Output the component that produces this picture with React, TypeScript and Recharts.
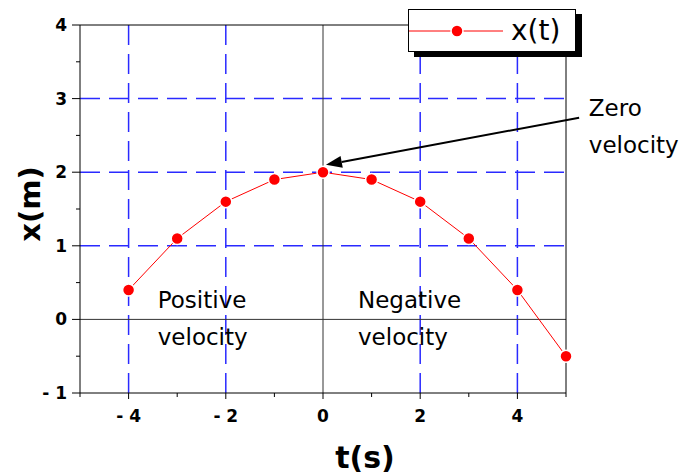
import React from 'react';
import { ComposedChart, Line, XAxis, YAxis, ReferenceLine, ReferenceDot, Legend, Label } from 'recharts';

const times = [-4, -3, -2, -1, 0, 1, 2, 3, 4, 5];
const positions = [0.4, 1.1, 1.6, 1.9, 2.0, 1.9, 1.6, 1.1, 0.4, -0.5];

const xTicks = [-5, -4, -3, -2, -1, 0, 1, 2, 3, 4, 5];
const xLabelled = [-4, -2, 0, 2, 4];
const yTicks = [-1, -0.5, 0, 0.5, 1, 1.5, 2, 2.5, 3, 3.5, 4];
const xGrid = [-4, -2, 2, 4];
const yGrid = [1, 2, 3];

const font = "'DejaVu Sans', sans-serif";
const red = '#ff0000';
const blue = '#2a2aff';

const data = times.map((t, i) => ({ t, x: positions[i] }));

const fmt = (v: number) => (v < 0 ? `- ${-v}` : String(v));

const XTick = (props: any) => {
  const { x, y, payload } = props;
  const v = payload.value;
  const major = xLabelled.includes(v);
  return (
    <g>
      <line x1={x} x2={x} y1={y} y2={y + (major ? 6 : 4)} stroke="#000" />
      {major && (
        <text x={x} y={y + 29} textAnchor="middle" fontSize={17} fontWeight="bold" fontFamily={font} fill="#000">
          {fmt(v)}
        </text>
      )}
    </g>
  );
};

const YTick = (props: any) => {
  const { x, y, payload } = props;
  const v = payload.value;
  const major = Number.isInteger(v);
  return (
    <g>
      <line x1={x - (major ? 8 : 4)} x2={x} y1={y} y2={y} stroke="#000" />
      {major && (
        <text x={x - 13} y={y + 6} textAnchor="end" fontSize={17} fontWeight="bold" fontFamily={font} fill="#000">
          {fmt(v)}
        </text>
      )}
    </g>
  );
};

const YTitle = (props: any) => {
  const { viewBox } = props;
  const cx = viewBox.x + 10;
  const cy = viewBox.y + viewBox.height / 2 - 5;
  return (
    <text x={cx} y={cy} transform={`rotate(-90 ${cx} ${cy})`} textAnchor="middle" dominantBaseline="central"
      fontSize={29} fontWeight="bold" fontFamily={font} fill="#000">
      x(m)
    </text>
  );
};

const XTitle = (props: any) => {
  const { viewBox } = props;
  const cx = viewBox.x + viewBox.width / 2 + 42;
  const cy = viewBox.y + 64;
  return (
    <text x={cx} y={cy} textAnchor="middle" dominantBaseline="central" fontSize={30} fontWeight="bold" fontFamily={font} fill="#000">
      t(s)
    </text>
  );
};

const Arrow = (p: any) => {
  const { x1, y1, x2, y2 } = p;
  const ang = Math.atan2(y2 - y1, x2 - x1);
  const len = 16;
  const half = 6;
  const bx = x2 - len * Math.cos(ang);
  const by = y2 - len * Math.sin(ang);
  const px = -Math.sin(ang) * half;
  const py = Math.cos(ang) * half;
  return (
    <g>
      <line x1={x1} y1={y1} x2={bx} y2={by} stroke="#000" strokeWidth={2} />
      <polygon points={`${x2},${y2} ${bx + px},${by + py} ${bx - px},${by - py}`} fill="#000" />
    </g>
  );
};

const note = (lines: string[]) => (p: any) => (
  <text x={p.cx} y={p.cy} fontSize={23} fontFamily={font} fill="#000">
    {lines.map((l, i) => (
      <tspan key={i} x={p.cx} dy={i === 0 ? 0 : 37}>{l}</tspan>
    ))}
  </text>
);

const LegendBox = (props: any) => {
  const item = (props.payload || [])[0];
  return (
    <div style={{
      width: 166, height: 41, border: '1px solid #000', background: '#fff',
      boxShadow: '6px 5px 0 #000', display: 'flex', alignItems: 'center',
    }}>
      <svg width={102} height={41}>
        <line x1={0} x2={94} y1={21} y2={21} stroke={red} />
        <circle cx={48} cy={21} r={6} fill={red} stroke="#fff" strokeWidth={1.5} />
      </svg>
      <span style={{ fontSize: 28, fontFamily: font, color: '#000', lineHeight: 1 }}>{item ? item.value : 'x(t)'}</span>
    </div>
  );
};

export default function App() {
  return (
    <div style={{ position: 'absolute', left: 0, top: 0, background: '#fff' }}>
      <ComposedChart width={683} height={475} data={data} margin={{ top: 25, right: 117, bottom: 42, left: 20 }}>
        <XAxis dataKey="t" type="number" domain={[-5, 5]} ticks={xTicks} interval={0} tickSize={0} tickMargin={0}
          tick={XTick} height={40} axisLine={{ stroke: '#000' }}>
          <Label content={XTitle} />
        </XAxis>
        <YAxis type="number" domain={[-1, 4]} ticks={yTicks} interval={0} tickSize={0} tickMargin={0}
          tick={YTick} width={60} axisLine={{ stroke: '#000' }}>
          <Label content={YTitle} />
        </YAxis>
        {yGrid.map((v) => (
          <ReferenceLine key={'y' + v} y={v} stroke={blue} strokeWidth={1.5} strokeDasharray="20 9" zIndex={-50} />
        ))}
        {xGrid.map((v) => (
          <ReferenceLine key={'x' + v} x={v} stroke={blue} strokeWidth={1.5} strokeDasharray="20 9" zIndex={-50} />
        ))}
        <ReferenceLine x={0} stroke="#333" zIndex={-40} />
        <ReferenceLine y={0} stroke="#333" zIndex={-40} />
        <ReferenceLine x={5} stroke="#000" zIndex={-40} />
        <ReferenceLine y={4} stroke="#000" zIndex={-40} />
        <Line type="linear" dataKey="x" name="x(t)" stroke={red} strokeWidth={1}
          dot={{ r: 6, fill: red, stroke: '#fff', strokeWidth: 1.5 }} activeDot={false} isAnimationActive={false} />
        <ReferenceLine segment={[{ x: 5.27, y: 2.74 }, { x: 0.06, y: 2.1 }]} ifOverflow="visible" shape={Arrow} zIndex={900} />
        <ReferenceDot x={-3.4} y={0.15} r={0} ifOverflow="visible" shape={note(['Positive', 'velocity'])} zIndex={900} />
        <ReferenceDot x={0.72} y={0.15} r={0} ifOverflow="visible" shape={note(['Negative', 'velocity'])} zIndex={900} />
        <ReferenceDot x={5.47} y={2.77} r={0} ifOverflow="visible" shape={note(['Zero', 'velocity'])} zIndex={900} />
        <Legend layout="horizontal" verticalAlign="middle" align="center"
          wrapperStyle={{ top: 9, left: 408, width: 'auto', height: 'auto' }} content={LegendBox} />
      </ComposedChart>
    </div>
  );
}
